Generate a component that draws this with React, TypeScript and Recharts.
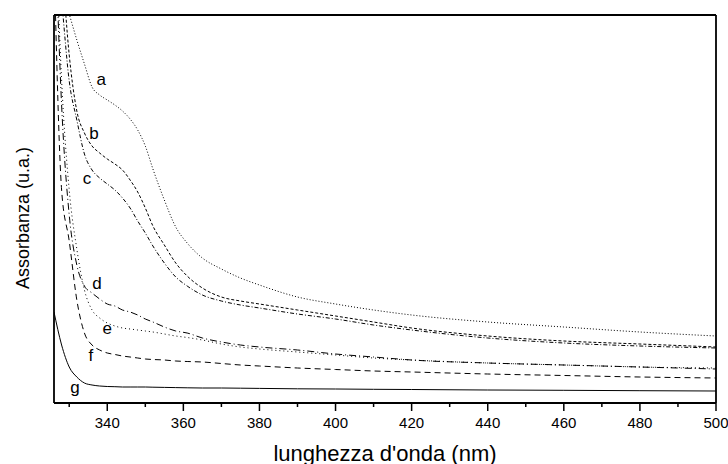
import React from "react";
import {
  LineChart,
  Line,
  XAxis,
  YAxis,
  ReferenceLine,
  ReferenceDot,
} from "recharts";

// wavelength grid (nm) shared by all spectra
const wavelengths = [
  326, 328, 330, 332, 334, 336, 338, 340, 342, 344, 346, 348, 350, 352, 355,
  358, 361, 365, 370, 375, 380, 390, 400, 410, 420, 440, 460, 480, 500,
];

// absorbance (arbitrary units)
const serieA = [
  448, 415, 389, 363, 339, 316, 308, 303, 298, 292, 284, 273, 257, 234, 203,
  176, 160, 145, 134, 125, 118, 106, 99, 93, 88, 81, 76, 71, 67,
];
const serieB = [
  533, 443, 348, 292, 270, 257, 250, 244, 239, 233, 223, 211, 195, 177, 158,
  140, 127, 115, 106, 102, 99, 93, 87, 81, 75, 67, 62, 59, 56,
];
const serieC = [
  483, 403, 322, 283, 249, 233, 225, 219, 213, 205, 195, 182, 170, 157, 140,
  126, 117, 108, 102, 98, 95, 89, 84, 78, 73, 65, 60, 57, 55,
];
const serieD = [
  508, 298, 188, 138, 117, 110, 104, 99, 97, 93, 91, 88, 84, 81, 76, 72, 70,
  65, 61, 58, 56, 53, 49, 46, 43, 40, 38, 36, 34,
];
const serieE = [
  523, 323, 213, 154, 113, 93, 85, 80, 77, 75, 74, 73, 72, 71, 69, 67, 65.5,
  63, 59, 56, 54, 51, 48, 45, 43, 40, 38, 36, 35,
];
const serieF = [
  448, 213, 162, 103, 70, 58, 53, 50, 48.5, 47, 46, 45, 44, 43.5, 43, 42, 41.5,
  41, 39.5, 38, 37, 35, 33.5, 32, 31, 29, 27.5, 26, 25,
];
const serieG = [
  91, 58, 36, 26, 20, 18, 17, 16.5, 16.3, 16, 16, 16, 16, 15.8, 15.6, 15.4,
  15.2, 15, 15, 14.8, 14.6, 14.2, 14, 13.7, 13.5, 13, 12.7, 12.3, 12,
];

const majorTicks = [340, 360, 380, 400, 420, 440, 460, 480, 500];
const minorTicks = [330, 350, 370, 390, 410, 430, 450, 470, 490];

// where the curve letters sit (nm, absorbance)
const curveLabels = [
  { name: "a", nm: 338.4, value: 324 },
  { name: "b", nm: 336.5, value: 270 },
  { name: "c", nm: 334.7, value: 225 },
  { name: "d", nm: 337.3, value: 120 },
  { name: "e", nm: 340, value: 75 },
  { name: "f", nm: 335.7, value: 48 },
  { name: "g", nm: 331.5, value: 16 },
];

const series = [
  { key: "a", values: serieA, dash: "1 2" },
  { key: "b", values: serieB, dash: "3 2" },
  { key: "c", values: serieC, dash: "4 2 1 2" },
  { key: "d", values: serieD, dash: "7 3 1 3" },
  { key: "e", values: serieE, dash: "1 3" },
  { key: "f", values: serieF, dash: "6 4" },
  { key: "g", values: serieG, dash: undefined },
];

const data = wavelengths.map((nm, i) => {
  const row: Record<string, number> = { nm };
  series.forEach((s) => (row[s.key] = s.values[i]));
  return row;
});

const FONT = "'Liberation Sans', Arial, sans-serif";

const App: React.FC = () => {
  return (
    <div
      style={{
        position: "absolute",
        left: 0,
        top: 0,
        width: 728,
        height: 464,
        background: "#fff",
        fontFamily: FONT,
      }}
    >
      <div
        style={{
          position: "absolute",
          left: 23 - 100,
          top: 218 - 11,
          width: 200,
          height: 22,
          lineHeight: "22px",
          textAlign: "center",
          fontSize: 18,
          color: "#000",
          transform: "rotate(-90deg)",
          whiteSpace: "nowrap",
        }}
      >
        Assorbanza (u.a.)
      </div>
      <LineChart
        width={728}
        height={464}
        data={data}
        margin={{ top: 15, right: 12, bottom: 0, left: 54 }}
      >
        <XAxis
          dataKey="nm"
          type="number"
          domain={[326, 500]}
          allowDataOverflow
          ticks={majorTicks}
          interval={0}
          height={61}
          tickSize={8}
          tickMargin={6}
          tickLine={{ stroke: "#000", strokeWidth: 1.5 }}
          tick={{ fontSize: 15, fill: "#000", fontFamily: FONT }}
          axisLine={{ stroke: "#000", strokeWidth: 1.8 }}
          label={{
            content: (p: any) => {
              const vb = p.viewBox;
              return (
                <text
                  x={vb.x + vb.width / 2}
                  y={vb.y + 50}
                  textAnchor="middle"
                  dominantBaseline="central"
                  fontSize={22}
                  fontFamily={FONT}
                  fill="#000"
                >
                  lunghezza d'onda (nm)
                </text>
              );
            },
          }}
        />
        <YAxis
          type="number"
          domain={[0, 388]}
          allowDataOverflow
          width={0}
          tick={false}
          tickLine={false}
          axisLine={false}
        />
        <ReferenceLine x={326} stroke="#000" strokeWidth={1.8} />
        <ReferenceLine y={388} stroke="#000" strokeWidth={1.8} />
        <ReferenceLine x={500} stroke="#000" strokeWidth={1.8} />
        {minorTicks.map((t) => (
          <ReferenceLine
            key={t}
            segment={[
              { x: t, y: 0 },
              { x: t, y: -4 },
            ]}
            ifOverflow="visible"
            stroke="#000"
            strokeWidth={1.5}
          />
        ))}
        {series.map((s) => (
          <Line
            key={s.key}
            dataKey={s.key}
            type="monotone"
            stroke="#000"
            strokeWidth={1}
            strokeDasharray={s.dash}
            dot={false}
            activeDot={false}
            isAnimationActive={false}
          />
        ))}
        {curveLabels.map((l) => (
          <ReferenceDot
            key={l.name}
            x={l.nm}
            y={l.value}
            r={0}
            fill="none"
            stroke="none"
            label={{
              value: l.name,
              position: "center",
              fontSize: 17,
              fontFamily: FONT,
              fill: "#000",
            }}
          />
        ))}
      </LineChart>
    </div>
  );
};

export default App;
